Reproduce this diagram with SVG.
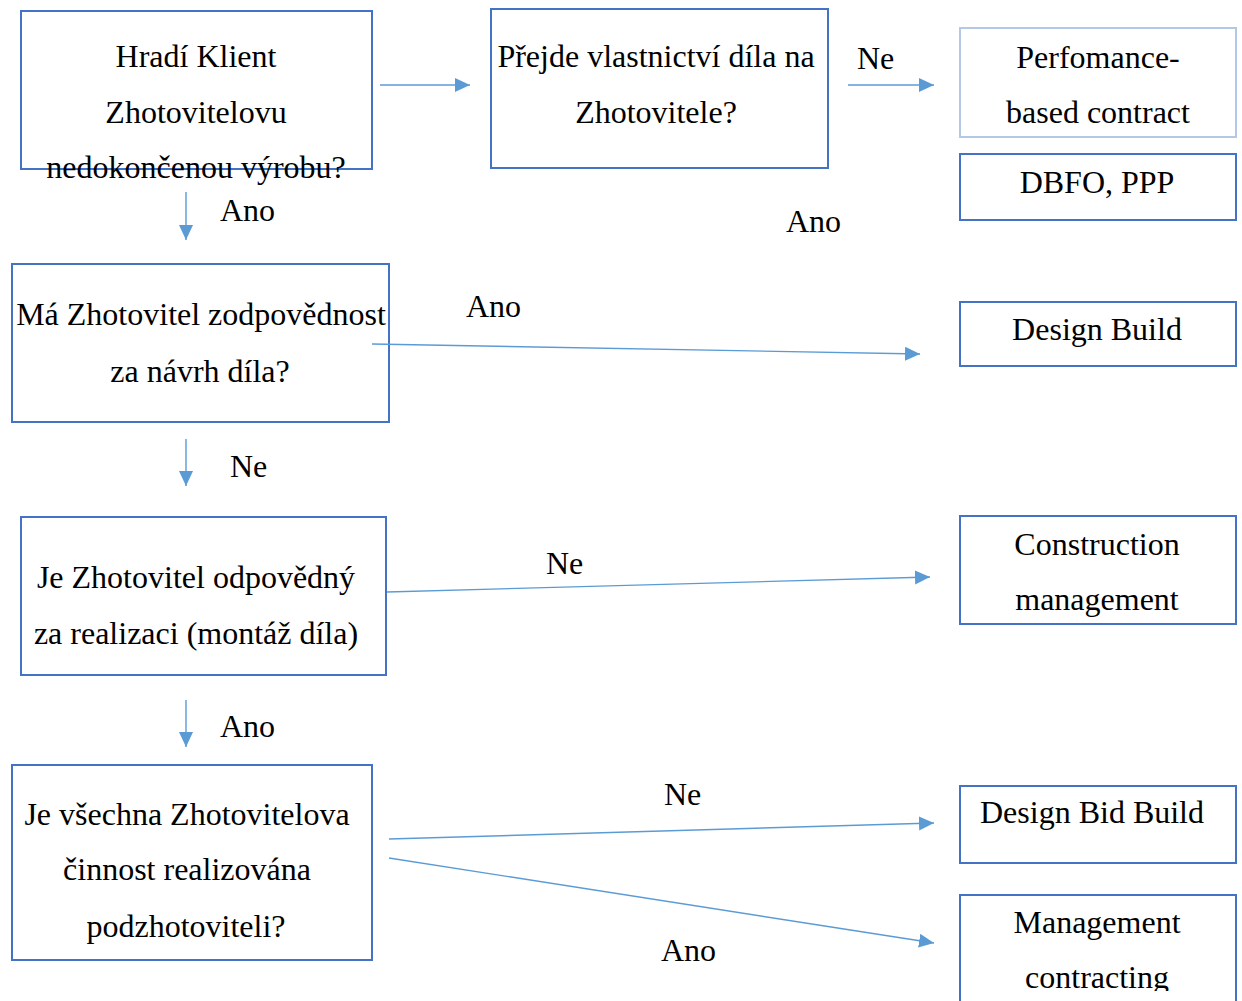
<svg xmlns="http://www.w3.org/2000/svg" width="1242" height="1001" viewBox="0 0 1242 1001">
  <style>
    .box { fill: none; stroke: #4472C4; stroke-width: 2; }
    .box-light { fill: none; stroke: #B4C7E7; stroke-width: 2; }
    .t { font-family: "Liberation Serif", "Times New Roman", serif; font-size: 32px; fill: #000; text-anchor: middle; }
    .lbl { font-family: "Liberation Serif", "Times New Roman", serif; font-size: 32px; fill: #000; }
    .conn { stroke: #5B9BD5; stroke-width: 1.4; fill: none; marker-end: url(#arrow); }
  </style>
  <defs>
    <marker id="arrow" markerUnits="userSpaceOnUse" markerWidth="16" markerHeight="16" refX="15" refY="7" orient="auto">
      <path d="M0,0 L15,7 L0,14 Z" fill="#5B9BD5"/>
    </marker>
    <clipPath id="clip-bottom">
      <rect x="0" y="0" width="1242" height="991"/>
    </clipPath>
  </defs>
  <rect width="1242" height="1001" fill="#fff"/>

  <!-- decision nodes -->
  <g id="q-payment">
    <rect class="box" x="21" y="11" width="351" height="158"/>
    <text class="t" x="196" y="67">Hradí Klient</text>
    <text class="t" x="196" y="123">Zhotovitelovu</text>
    <text class="t" x="196" y="178">nedokončenou výrobu?</text>
  </g>
  <g id="q-ownership">
    <rect class="box" x="491" y="9" width="337" height="159"/>
    <text class="t" x="656" y="67">Přejde vlastnictví díla na</text>
    <text class="t" x="656" y="123">Zhotovitele?</text>
  </g>
  <g id="q-design">
    <rect class="box" x="12" y="264" width="377" height="158"/>
    <text class="t" x="201" y="325">Má Zhotovitel zodpovědnost</text>
    <text class="t" x="200" y="382">za návrh díla?</text>
  </g>
  <g id="q-construction">
    <rect class="box" x="21" y="517" width="365" height="158"/>
    <text class="t" x="196" y="588">Je Zhotovitel odpovědný</text>
    <text class="t" x="196" y="644">za realizaci (montáž díla)</text>
  </g>
  <g id="q-subcontract">
    <rect class="box" x="12" y="765" width="360" height="195"/>
    <text class="t" x="187" y="825">Je všechna Zhotovitelova</text>
    <text class="t" x="187" y="880">činnost realizována</text>
    <text class="t" x="186" y="937">podzhotoviteli?</text>
  </g>

  <!-- outcome nodes -->
  <g id="r-performance">
    <rect class="box-light" x="960" y="28" width="276" height="109"/>
    <text class="t" x="1098" y="68">Perfomance-</text>
    <text class="t" x="1098" y="123">based contract</text>
  </g>
  <g id="r-dbfo">
    <rect class="box" x="960" y="154" width="276" height="66"/>
    <text class="t" x="1097" y="193">DBFO, PPP</text>
  </g>
  <g id="r-design-build">
    <rect class="box" x="960" y="302" width="276" height="64"/>
    <text class="t" x="1097" y="340">Design Build</text>
  </g>
  <g id="r-cm">
    <rect class="box" x="960" y="516" width="276" height="108"/>
    <text class="t" x="1097" y="555">Construction</text>
    <text class="t" x="1097" y="610">management</text>
  </g>
  <g id="r-dbb">
    <rect class="box" x="960" y="786" width="276" height="77"/>
    <text class="t" x="1092" y="823">Design Bid Build</text>
  </g>
  <g id="r-mc">
    <rect class="box" x="960" y="895" width="276" height="120"/>
    <g clip-path="url(#clip-bottom)">
      <text class="t" x="1097" y="933">Management</text>
      <text class="t" x="1097" y="988">contracting</text>
    </g>
  </g>

  <!-- connectors -->
  <g id="connectors">
    <line class="conn" x1="380" y1="85" x2="470" y2="85"/>
    <line class="conn" x1="848" y1="85" x2="934" y2="85"/>
    <line class="conn" x1="186" y1="192" x2="186" y2="240"/>
    <line class="conn" x1="372" y1="344" x2="920" y2="354"/>
    <line class="conn" x1="186" y1="439" x2="186" y2="486"/>
    <line class="conn" x1="387" y1="592" x2="930" y2="577"/>
    <line class="conn" x1="186" y1="700" x2="186" y2="747"/>
    <line class="conn" x1="389" y1="839" x2="934" y2="823"/>
    <line class="conn" x1="389" y1="858" x2="934" y2="943"/>
  </g>

  <!-- connector labels -->
  <g id="labels">
    <text class="lbl" x="857" y="69">Ne</text>
    <text class="lbl" x="220" y="221">Ano</text>
    <text class="lbl" x="786" y="232">Ano</text>
    <text class="lbl" x="466" y="317">Ano</text>
    <text class="lbl" x="230" y="477">Ne</text>
    <text class="lbl" x="546" y="574">Ne</text>
    <text class="lbl" x="220" y="737">Ano</text>
    <text class="lbl" x="664" y="805">Ne</text>
    <text class="lbl" x="661" y="961">Ano</text>
  </g>
</svg>
